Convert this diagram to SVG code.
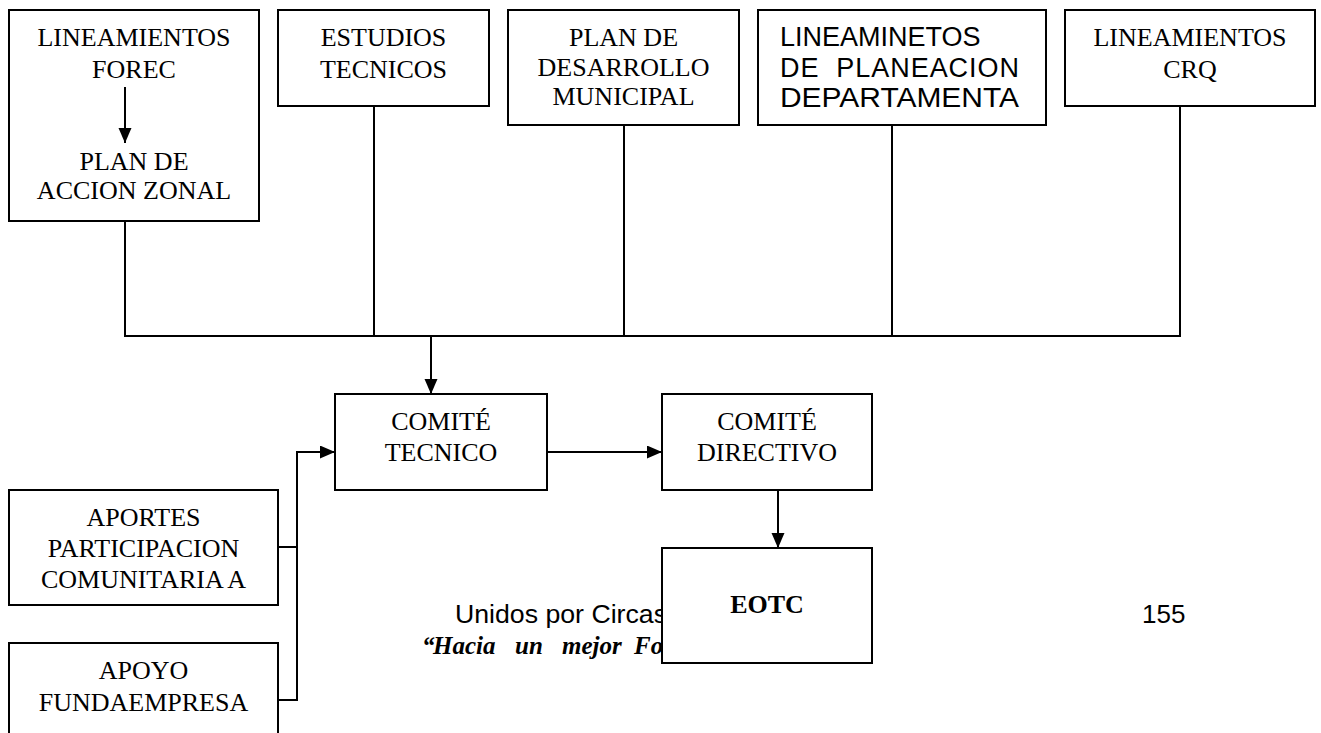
<svg xmlns="http://www.w3.org/2000/svg" width="1321" height="733" viewBox="0 0 1321 733">
<style>
.box{fill:#fff;stroke:#000;stroke-width:2}
.t{font-family:"Liberation Serif","Times New Roman",serif;font-size:26px;fill:#000;text-anchor:middle}
.a{font-family:"Liberation Sans",Arial,sans-serif;font-size:27px;fill:#000;white-space:pre}
.ln{fill:none;stroke:#000;stroke-width:2}
.f{font-family:"Liberation Sans",Arial,sans-serif;font-size:26px;fill:#000}
.h{font-family:"Liberation Serif","Times New Roman",serif;font-style:italic;font-weight:bold;font-size:25px;fill:#000}
</style>
<defs>
<marker id="arr" markerUnits="userSpaceOnUse" markerWidth="16" markerHeight="14" refX="15" refY="6.5" orient="auto">
<path d="M0,0 L15,6.5 L0,13 z" fill="#000"/>
</marker>
</defs>
<rect width="1321" height="733" fill="#fff"/>
<g id="footer">
<text class="f" x="455" y="623" textLength="212" lengthAdjust="spacingAndGlyphs">Unidos por Circas</text>
<text class="h" y="654"><tspan x="422">“</tspan><tspan x="433">Hacia</tspan><tspan x="515">un</tspan><tspan x="562">mejor</tspan><tspan x="634">Fo</tspan></text>
<text class="f" x="1142" y="623">155</text>
</g>
<g id="connectors">
<line class="ln" x1="125" y1="221" x2="125" y2="336"/>
<line class="ln" x1="374" y1="106" x2="374" y2="336"/>
<line class="ln" x1="624" y1="125" x2="624" y2="336"/>
<line class="ln" x1="892" y1="125" x2="892" y2="336"/>
<line class="ln" x1="1180" y1="106" x2="1180" y2="336"/>
<line class="ln" x1="124" y1="336" x2="1181" y2="336"/>
<line class="ln" x1="431" y1="336" x2="431" y2="394" marker-end="url(#arr)"/>
<line class="ln" x1="547" y1="452" x2="662" y2="452" marker-end="url(#arr)"/>
<polyline class="ln" points="278,547 297,547"/>
<polyline class="ln" points="278,700 297,700 297,452 335,452" marker-end="url(#arr)"/>
<line class="ln" x1="778" y1="490" x2="778" y2="548" marker-end="url(#arr)"/>
</g>
<g id="forec">
<rect class="box" x="9" y="10" width="250" height="211"/>
<text class="t" x="134" y="46">LINEAMIENTOS</text>
<text class="t" x="134" y="78">FOREC</text>
<line class="ln" x1="125" y1="87" x2="125" y2="143" marker-end="url(#arr)"/>
<text class="t" x="134" y="170">PLAN DE</text>
<text class="t" x="134" y="199">ACCION ZONAL</text>
</g>
<g id="estudios">
<rect class="box" x="278" y="10" width="211" height="96"/>
<text class="t" x="383.5" y="46">ESTUDIOS</text>
<text class="t" x="383.5" y="78">TECNICOS</text>
</g>
<g id="plan-desarrollo">
<rect class="box" x="508" y="10" width="231" height="115"/>
<text class="t" x="623.5" y="46">PLAN DE</text>
<text class="t" x="623.5" y="76">DESARROLLO</text>
<text class="t" x="623.5" y="105">MUNICIPAL</text>
</g>
<g id="planeacion">
<rect class="box" x="758" y="10" width="288" height="115"/>
<text class="a" x="780" y="46">LINEAMINETOS</text>
<text class="a" x="780" y="77" textLength="239" lengthAdjust="spacing">DE  PLANEACION</text>
<text class="a" x="780" y="107" textLength="239" lengthAdjust="spacingAndGlyphs">DEPARTAMENTA</text>
</g>
<g id="crq">
<rect class="box" x="1065" y="10" width="250" height="96"/>
<text class="t" x="1190" y="46">LINEAMIENTOS</text>
<text class="t" x="1190" y="78">CRQ</text>
</g>
<g id="comite-tecnico">
<rect class="box" x="335" y="394" width="212" height="96"/>
<text class="t" x="441" y="430">COMITÉ</text>
<text class="t" x="441" y="461">TECNICO</text>
</g>
<g id="comite-directivo">
<rect class="box" x="662" y="394" width="210" height="96"/>
<text class="t" x="767" y="430">COMITÉ</text>
<text class="t" x="767" y="461">DIRECTIVO</text>
</g>
<g id="eotc">
<rect class="box" x="662" y="548" width="210" height="115"/>
<text class="t" x="767" y="613" font-weight="bold">EOTC</text>
</g>
<g id="aportes">
<rect class="box" x="9" y="490" width="269" height="115"/>
<text class="t" x="143.5" y="526">APORTES</text>
<text class="t" x="143.5" y="557">PARTICIPACION</text>
<text class="t" x="143.5" y="588">COMUNITARIA A</text>
</g>
<g id="apoyo">
<path class="box" d="M9,740 L9,643 L278,643 L278,740"/>
<text class="t" x="143.5" y="679">APOYO</text>
<text class="t" x="143.5" y="711">FUNDAEMPRESA</text>
</g>
</svg>
